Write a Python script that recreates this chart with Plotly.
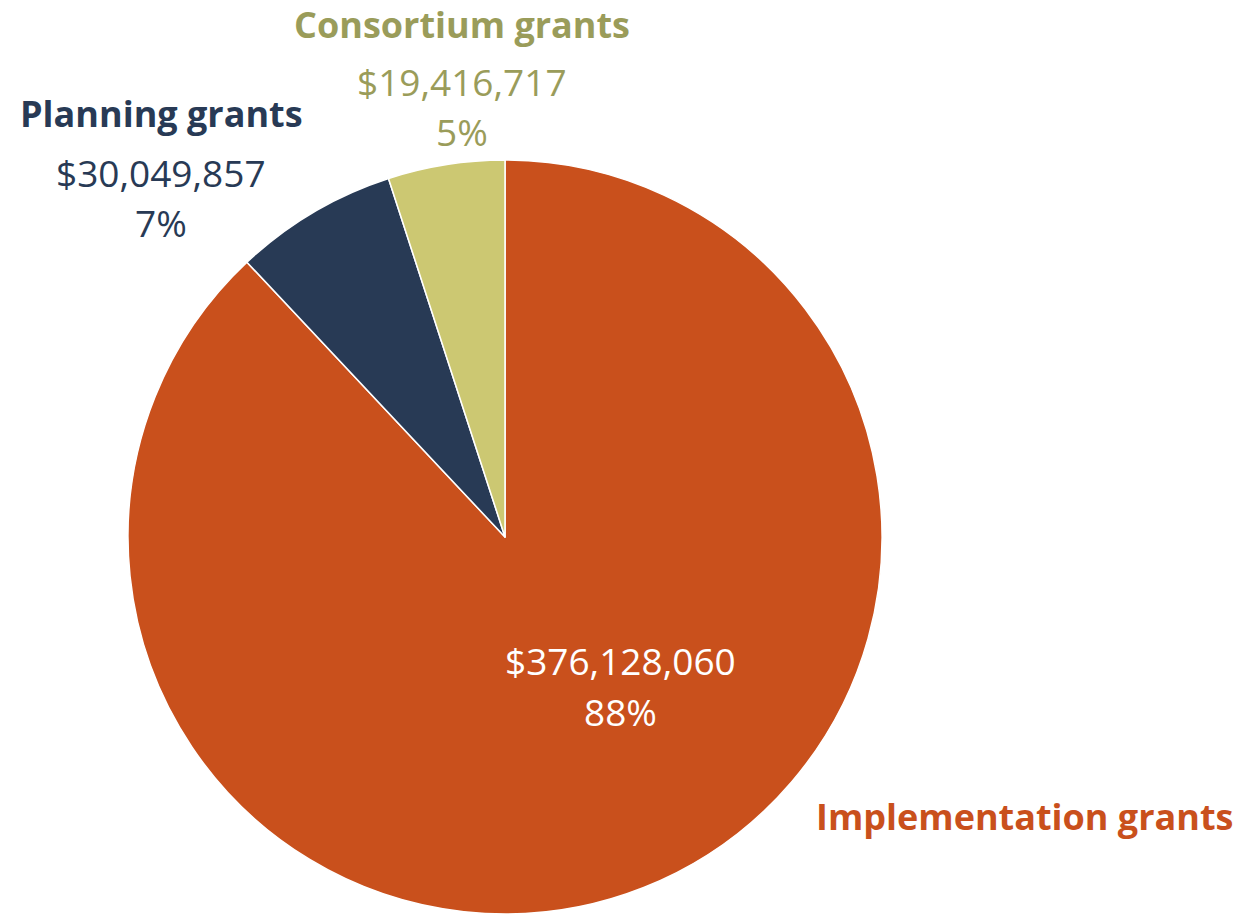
import plotly.graph_objects as go

categories = ["Implementation grants", "Planning grants", "Consortium grants"]
amounts = [376128060, 30049857, 19416717]
shares_pct = [88, 7, 5]
slice_colors = ["#C9501C", "#283A55", "#CCC872"]
label_colors = ["#C9501C", "#283A55", "#9A9C5A"]

W, H = 1236, 914

fig = go.Figure(go.Pie(
    labels=categories, values=shares_pct, customdata=amounts, sort=False,
    direction="clockwise", rotation=0,
    marker=dict(colors=slice_colors, line=dict(color="white", width=1.5)),
    textinfo="none", hovertemplate="%{label}<br>$%{customdata:,}<br>%{value}%<extra></extra>",
    domain=dict(x=[128 / W, 882 / W], y=[0, 754 / H]),
    showlegend=False,
))

FONT = "Open Sans"
layout_pos = {
    "Implementation grants": dict(title=(1024, 816), val=(620, 660), pct=(620, 711), vcol="white"),
    "Planning grants": dict(title=(161, 113), val=(161, 172), pct=(161, 222), vcol="#283A55"),
    "Consortium grants": dict(title=(462, 24), val=(462, 82), pct=(462, 131), vcol="#9A9C5A"),
}

ann = []
for cat, v, p, lc in zip(categories, amounts, shares_pct, label_colors):
    pos = layout_pos[cat]
    tx, ty = pos["title"]
    ann.append(dict(x=tx / W, y=1 - ty / H, xref="paper", yref="paper", text=f"<b>{cat}</b>",
                    showarrow=False, xanchor="center", yanchor="middle",
                    font=dict(family=FONT, size=36, color=lc)))
    vx, vy = pos["val"]
    ann.append(dict(x=vx / W, y=1 - vy / H, xref="paper", yref="paper", text=f"${v:,}",
                    showarrow=False, xanchor="center", yanchor="middle",
                    font=dict(family=FONT, size=37, color=pos["vcol"])))
    px, py = pos["pct"]
    ann.append(dict(x=px / W, y=1 - py / H, xref="paper", yref="paper", text=f"{p}%",
                    showarrow=False, xanchor="center", yanchor="middle",
                    font=dict(family=FONT, size=37, color=pos["vcol"])))

fig.update_layout(
    width=W, height=H, margin=dict(l=0, r=0, t=0, b=0),
    paper_bgcolor="white", plot_bgcolor="white",
    annotations=ann,
)

fig.write_html("out.html")
